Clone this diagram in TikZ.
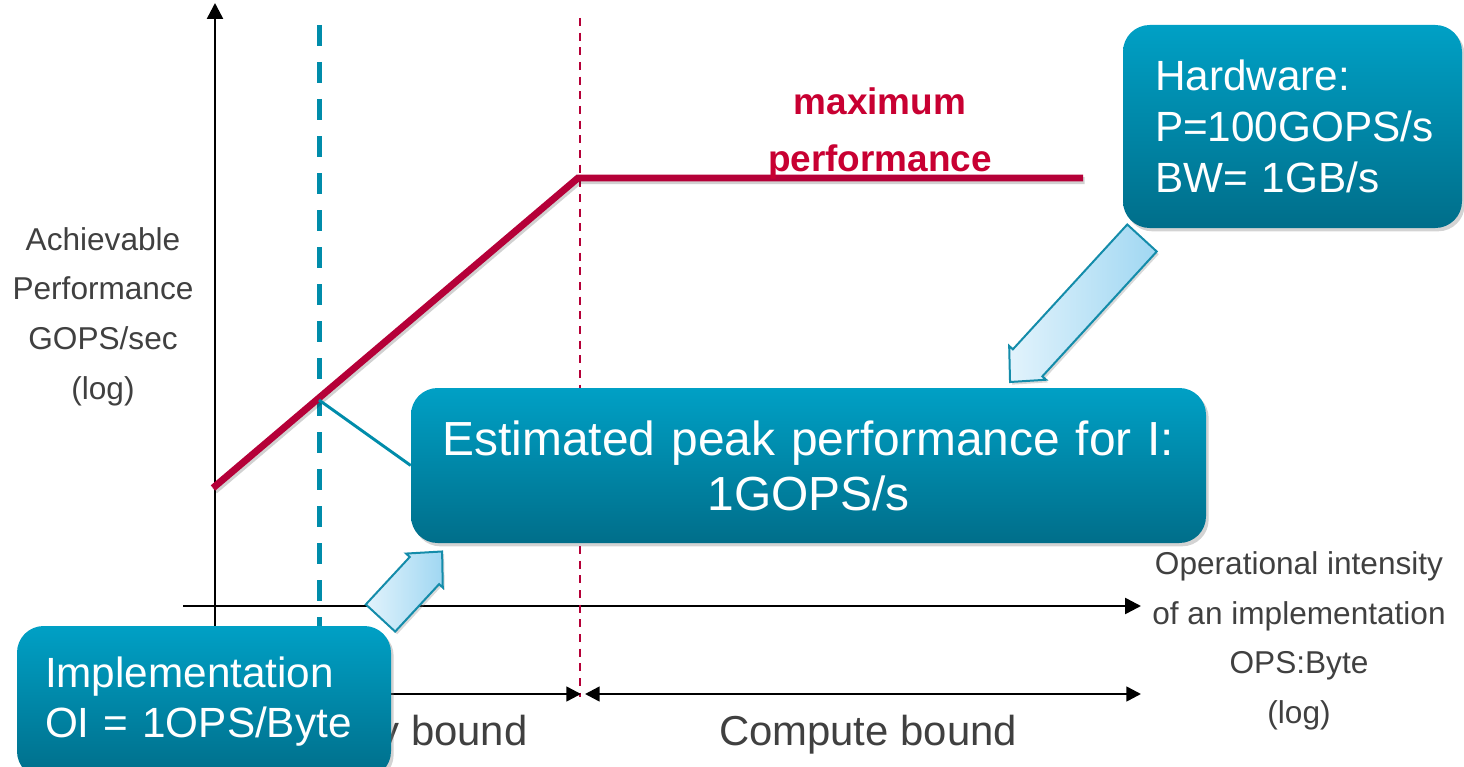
\documentclass[tikz,border=0pt]{standalone}
\usepackage{fontspec}
\setmainfont{Liberation Sans}
\usetikzlibrary{arrows.meta,shadows}

\definecolor{roofred}{RGB}{181,0,56}
\definecolor{labelred}{RGB}{200,0,50}
\definecolor{oiteal}{RGB}{0,140,170}
\definecolor{boxtop}{RGB}{0,160,197}
\definecolor{boxbot}{RGB}{0,110,138}
\definecolor{txtgray}{RGB}{64,64,64}
\definecolor{barrowlight}{RGB}{226,243,252}
\definecolor{barrowdark}{RGB}{160,215,242}
\definecolor{barrowedge}{RGB}{20,140,170}

\tikzset{
  spantip/.tip={Triangle[length=11pt,width=11pt]},
  axisline/.style={line width=1.9pt, -{Triangle[length=12pt,width=12pt]}},
  spanline/.style={line width=1.9pt},
  roofline/.style={line width=5.2pt, roofred,
    preaction={draw=black, opacity=0.18, line width=5.2pt,
      transform canvas={shift={(1.2pt,-2pt)}}}},
  ridgeline/.style={line width=1.5pt, roofred, dash pattern=on 6pt off 5pt},
  oiline/.style={line width=3.75pt, oiteal, dash pattern=on 15.75pt off 12pt},
  calloutline/.style={line width=2.2pt, oiteal},
  axislabel/.style={text=txtgray, align=center,
    font=\fontsize{23.7}{37.2}\selectfont},
  regionlabel/.style={text=txtgray, anchor=base,
    font=\fontsize{31.4}{37}\selectfont},
  peaklabel/.style={text=labelred, align=center,
    font=\fontsize{27.7}{42.75}\selectfont\bfseries},
  infobox/.style={rounded corners=20pt, top color=boxtop, bottom color=boxbot,
    text=white, inner ysep=0pt,
    drop shadow={opacity=0.35, shadow xshift=2pt, shadow yshift=-2.5pt}},
  blockarrow/.style={draw=barrowedge, line width=1.5pt,
    left color=barrowlight, right color=barrowdark,
    drop shadow={opacity=0.3, shadow xshift=1.5pt, shadow yshift=-2pt}}
}

\begin{document}
\begin{tikzpicture}[x=0.75pt, y=-0.75pt]
\useasboundingbox (0,0) rectangle (1464,767);

% reference points of the roofline plot
\coordinate (ybot)      at (215,700);
\coordinate (ytip)      at (215,3);
\coordinate (xstart)    at (183,606);
\coordinate (xtip)      at (1141,606);
\coordinate (roofstart) at (213,488);
\coordinate (knee)      at (578,178);
\coordinate (roofend)   at (1083,178);
\coordinate (ridgetop)  at (580,18);
\coordinate (ridgebot)  at (580,697);
\coordinate (oitop)     at (319,25);
\coordinate (oibot)     at (319,640);
\coordinate (oihit)     at (319,400);
\coordinate (memleft)   at (215,694);
\coordinate (memright)  at (581,694);
\coordinate (cmpleft)   at (585,694);
\coordinate (cmpright)  at (1141,694);

% axes
\draw[axisline] (ybot) -- (ytip);
\draw[axisline] (xstart) -- (xtip);

% ridge point and operational intensity of the implementation
\draw[ridgeline] (ridgetop) -- (ridgebot);
\draw[oiline] (oitop) -- (oibot);

% roofline: bandwidth slope, then compute ceiling
\draw[roofline] (roofstart) -- (knee) -- (roofend);

% axis and region labels
\node[axislabel] (ylab) at (103,316.5) {Achievable\\Performance\\GOPS/sec\\(log)};
\node[axislabel] (xlab) at (1299,641) {Operational intensity\\of an implementation\\OPS:Byte\\(log)};
\node[peaklabel] (peak) at (880,133) {maximum\\performance};

\draw[spanline, -spantip] (memleft) -- (memright);
\draw[spanline, spantip-spantip] (cmpleft) -- (cmpright);
\node[regionlabel] (membound) at (388,745) {Memory bound};
\node[regionlabel] (cmpbound) at (868,745) {Compute bound};

% information boxes
\node[infobox, minimum width=254.25pt, minimum height=152.25pt,
      text width=206.25pt, inner xsep=24pt, align=left,
      font=\fontsize{31.7}{38.25}\selectfont] (hw) at (1292.5,126.5)
  {Hardware:\\P=100GOPS/s\\BW= 1GB/s};

\node[infobox, minimum width=596.25pt, minimum height=116.25pt,
      text width=560pt, inner xsep=18pt, align=center,
      font=\fontsize{35.9}{41.25}\selectfont] (est) at (808.5,465.5)
  {Estimated peak performance for I:\\1GOPS/s};

\node[infobox, minimum width=280.5pt, minimum height=114pt,
      text width=238.5pt, inner xsep=21pt, align=left,
      font=\fontsize{31.7}{37.5}\selectfont] (impl) at (204,702)
  {Implementation\\OI = 1OPS/Byte};

% callout from the attainable point to the estimate
\draw[calloutline] (oihit) -- (est.west);

% block arrows: hardware -> estimate, implementation -> estimate
\begin{scope}[shift={(1142,238)}, rotate=-132.5]
  \draw[blockarrow] (0pt,-15pt) -- (127pt,-15pt) -- (127pt,-18.75pt)
    -- (146.5pt,0pt) -- (127pt,18.75pt) -- (127pt,15pt) -- (0pt,15pt) -- cycle;
\end{scope}
\begin{scope}[shift={(380.5,618)}, rotate=47.2]
  \draw[blockarrow] (0pt,-15pt) -- (48.5pt,-15pt) -- (48.5pt,-18.75pt)
    -- (68pt,0pt) -- (48.5pt,18.75pt) -- (48.5pt,15pt) -- (0pt,15pt) -- cycle;
\end{scope}
\end{tikzpicture}
\end{document}
